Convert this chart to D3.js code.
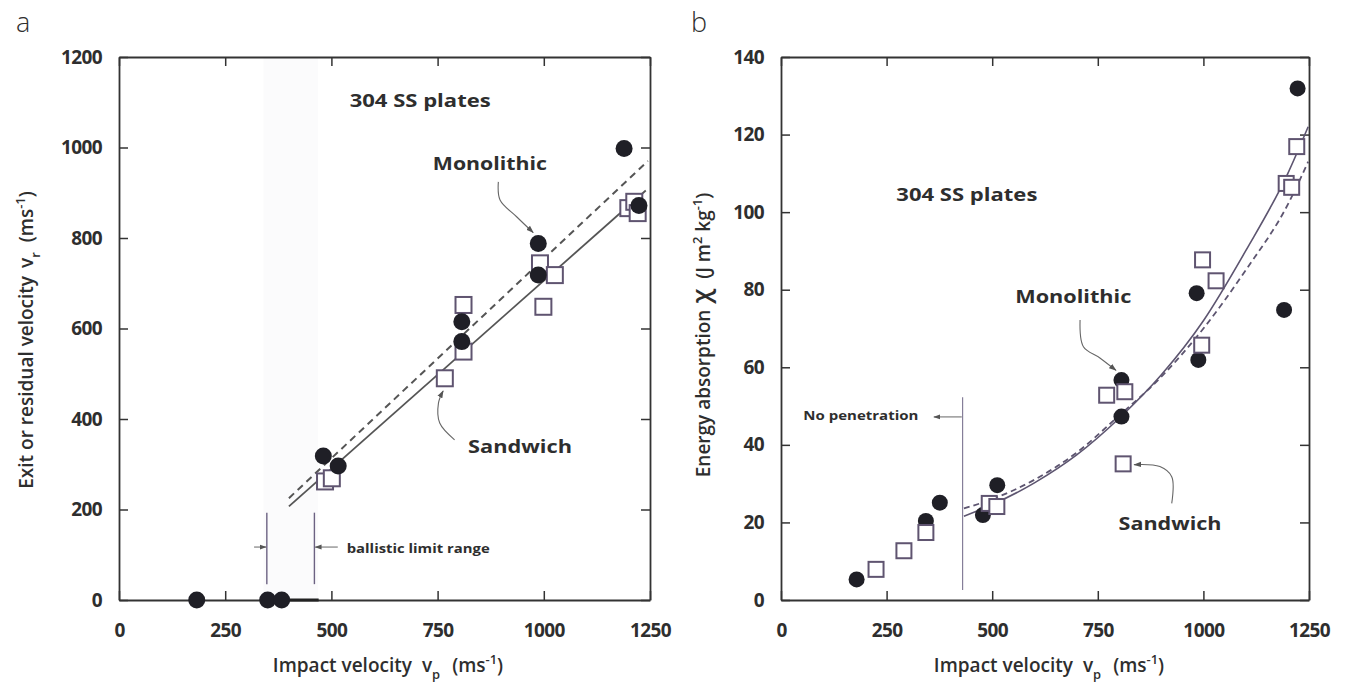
<!DOCTYPE html>
<html><head><meta charset="utf-8">
<script src="https://cdn.jsdelivr.net/npm/d3@7"></script>
<style>
body{margin:0;background:#fff}
svg{display:block}
text{font-family:'Open Sans','Noto Sans',sans-serif;fill:#2e2e2e}
</style>
</head><body>
<svg id="c" width="1345" height="686"></svg>
<script>
// ---------------- data ----------------
const xTickValues = [0, 250, 500, 750, 1000, 1250];
const yTickValuesA = [0, 200, 400, 600, 800, 1000, 1200];
const yTickValuesB = [0, 20, 40, 60, 80, 100, 120, 140];

// Panel a: exit / residual velocity
const monoA_vp = [183, 350, 383, 481, 516, 807, 807, 987, 987, 1189, 1224];
const monoA_vr = [0, 0, 0, 318, 296, 615, 571, 788, 718, 998, 872];
const sandA_vp = [485, 501, 767, 811, 811, 991, 1026, 999, 1199, 1213, 1221];
const sandA_vr = [262, 269, 490, 652, 549, 744, 718, 648, 866, 880, 855];
const fitMonoA_vp = [400, 1245];
const fitMonoA_vr = [225, 970];
const fitSandA_vp = [400, 1240];
const fitSandA_vr = [207, 905];
const ballisticRange = [348, 460];

// Panel b: energy absorption
const monoB_vp = [179, 343, 376, 478, 512, 806, 806, 984, 988, 1191, 1223];
const monoB_E = [5.3, 20.4, 25.1, 21.9, 29.6, 56.7, 47.3, 79.1, 61.9, 74.8, 131.9];
const sandB_vp = [225, 291, 343, 493, 511, 771, 814, 810, 998, 1030, 996, 1196, 1209, 1221];
const sandB_E = [7.9, 12.7, 17.4, 24.9, 24.1, 52.8, 53.7, 35.1, 87.7, 82.3, 65.7, 107.4, 106.4, 116.9];
const curveB_vp = [433, 500, 600, 700, 800, 900, 1000, 1100, 1200, 1248];
const curveSandB_E = [21.6, 24.6, 30.2, 37.4, 46.8, 58, 72, 90, 110, 122];
const curveMonoB_E = [23.6, 26, 31, 38, 47.5, 57.5, 70, 85, 102, 113];
const noPenetration_vp = 430;

// ---------------- drawing ----------------
const svg = d3.select('#c');
const INK = '#333';
const SQ = '#5f5470';

const defs = svg.append('defs');
defs.append('marker').attr('id', 'ah').attr('viewBox', '0 0 10 10')
  .attr('refX', 9).attr('refY', 5).attr('markerWidth', 7).attr('markerHeight', 7)
  .attr('orient', 'auto-start-reverse')
  .append('path').attr('d', 'M0,1.5 L10,5 L0,8.5 Z').attr('fill', '#555');

function rich(sel, parts, fs) {
  let shift = 0;
  parts.forEach(p => {
    const target = p.sub ? fs * 0.38 : p.sup ? -fs * 0.42 : 0;
    const ts = sel.append('tspan').text(p.t).attr('dy', target - shift);
    if (p.dx) ts.attr('dx', p.dx);
    if (p.sub || p.sup) ts.attr('font-size', fs * 0.68);
    if (p.fs) ts.attr('font-size', p.fs);
    shift = target;
  });
  if (shift !== 0) sel.append('tspan').text('').attr('dy', -shift);
}

function frame(g, x, y, yTicks) {
  const [x0, x1] = x.range();
  const [y0, y1] = y.range();
  const tk = 9;
  const fmt = d3.format('d');
  const bottom = g.append('g').attr('transform', `translate(0,${y0})`)
    .call(d3.axisBottom(x).tickValues(xTickValues).tickFormat(fmt).tickSizeInner(-tk).tickSizeOuter(0).tickPadding(24));
  const left = g.append('g').attr('transform', `translate(${x0},0)`)
    .call(d3.axisLeft(y).tickValues(yTicks).tickFormat(fmt).tickSizeInner(-tk).tickSizeOuter(0).tickPadding(17));
  const top = g.append('g').attr('transform', `translate(0,${y1})`)
    .call(d3.axisTop(x).tickValues(xTickValues).tickSizeInner(-tk).tickSizeOuter(0).tickFormat(''));
  const right = g.append('g').attr('transform', `translate(${x1},0)`)
    .call(d3.axisRight(y).tickValues(yTicks).tickSizeInner(-tk).tickSizeOuter(0).tickFormat(''));
  [bottom, left, top, right].forEach(a => {
    a.selectAll('path.domain').attr('stroke', INK).attr('stroke-width', 1.8);
    a.selectAll('.tick line').attr('stroke', INK).attr('stroke-width', 1.5);
    a.selectAll('.tick text').attr('font-size', 19).attr('font-weight', 700)
      .attr('fill', '#2e2e2e').attr('font-family', "'Open Sans',sans-serif")
      .style('letter-spacing', '-0.6px');
  });
}

function squares(g, xs, ys, x, y, s) {
  g.append('g').selectAll('rect').data(xs).join('rect')
    .attr('x', (d, i) => x(d) - s / 2).attr('y', (d, i) => y(ys[i]) - s / 2)
    .attr('width', s).attr('height', s)
    .attr('fill', '#fff').attr('stroke', SQ).attr('stroke-width', 2);
}
function circles(g, xs, ys, x, y, r) {
  g.append('g').selectAll('circle').data(xs).join('circle')
    .attr('cx', d => x(d)).attr('cy', (d, i) => y(ys[i])).attr('r', r)
    .attr('fill', '#1f1f26');
}
function curvedArrow(g, pts, x, y) {
  g.append('path')
    .attr('d', d3.line().x(p => x(p[0])).y(p => y(p[1])).curve(d3.curveCatmullRom)(pts))
    .attr('fill', 'none').attr('stroke', '#666').attr('stroke-width', 1.1)
    .attr('marker-end', 'url(#ah)');
}
function label(g, txt, xv, yv, x, y, w, fs, anchor) {
  g.append('text').attr('x', x(xv)).attr('y', y(yv)).text(txt)
    .attr('font-size', fs).attr('font-weight', 700).attr('text-anchor', anchor || 'middle')
    .attr('textLength', w).attr('lengthAdjust', 'spacingAndGlyphs');
}

// ---------- Panel a ----------
const xA = d3.scaleLinear().domain([0, 1250]).range([119, 650]);
const yA = d3.scaleLinear().domain([0, 1200]).range([600, 57]);
const gA = svg.append('g');

// faint ballistic band
gA.append('rect').attr('x', xA(ballisticRange[0] - 8)).attr('y', yA(1200))
  .attr('width', xA(ballisticRange[1] + 8) - xA(ballisticRange[0] - 8))
  .attr('height', yA(0) - yA(1200)).attr('fill', '#fbfbfc');

frame(gA, xA, yA, yTickValuesA);

// thick segment on axis
gA.append('line').attr('x1', xA(monoA_vp[2])).attr('x2', xA(ballisticRange[1] + 10))
  .attr('y1', yA(0)).attr('y2', yA(0)).attr('stroke', '#222').attr('stroke-width', 3);

// ballistic limit lines + arrows
ballisticRange.forEach(v => {
  gA.append('line').attr('x1', xA(v)).attr('x2', xA(v)).attr('y1', yA(35)).attr('y2', yA(193))
    .attr('stroke', '#6c6282').attr('stroke-width', 1.4);
});
gA.append('line').attr('x1', xA(318)).attr('x2', xA(ballisticRange[0] - 2)).attr('y1', yA(117)).attr('y2', yA(117))
  .attr('stroke', '#666').attr('stroke-width', 1).attr('marker-end', 'url(#ah)');
gA.append('line').attr('x1', xA(515)).attr('x2', xA(ballisticRange[1] + 2)).attr('y1', yA(117)).attr('y2', yA(117))
  .attr('stroke', '#666').attr('stroke-width', 1).attr('marker-end', 'url(#ah)');
gA.append('text').attr('x', xA(536)).attr('y', yA(104)).text('ballistic limit range')
  .attr('font-size', 13).attr('font-weight', 700).attr('textLength', 143).attr('lengthAdjust', 'spacingAndGlyphs')
  .attr('fill', '#333');

// fit lines
gA.append('path').attr('d', d3.line().x(d => xA(d)).y((d, i) => yA(fitMonoA_vr[i]))(fitMonoA_vp))
  .attr('stroke', '#555').attr('stroke-width', 2).attr('fill', 'none').attr('stroke-dasharray', '7,5');
gA.append('path').attr('d', d3.line().x(d => xA(d)).y((d, i) => yA(fitSandA_vr[i]))(fitSandA_vp))
  .attr('stroke', '#555').attr('stroke-width', 1.8).attr('fill', 'none');

squares(gA, sandA_vp, sandA_vr, xA, yA, 16);
circles(gA, monoA_vp, monoA_vr, xA, yA, 8.5);

label(gA, '304 SS plates', 709, 1089, xA, yA, 141, 18);
label(gA, 'Monolithic', 873, 950, xA, yA, 114, 18);
label(gA, 'Sandwich', 944, 325, xA, yA, 104, 18);
curvedArrow(gA, [[893, 924], [897, 884], [936, 847], [975, 812]], xA, yA);
curvedArrow(gA, [[790, 354], [755, 391], [752, 435], [763, 462]], xA, yA);

// ---------- Panel b ----------
const xB = d3.scaleLinear().domain([0, 1250]).range([781, 1309]);
const yB = d3.scaleLinear().domain([0, 140]).range([600, 57]);
const gB = svg.append('g');
frame(gB, xB, yB, yTickValuesB);

gB.append('line').attr('x1', xB(noPenetration_vp)).attr('x2', xB(noPenetration_vp))
  .attr('y1', yB(2.6)).attr('y2', yB(52.3)).attr('stroke', '#7b7390').attr('stroke-width', 1.1);
gB.append('line').attr('x1', xB(noPenetration_vp - 2)).attr('x2', xB(362)).attr('y1', yB(47.2)).attr('y2', yB(47.2))
  .attr('stroke', '#666').attr('stroke-width', 1).attr('marker-end', 'url(#ah)');
gB.append('text').attr('x', xB(53)).attr('y', yB(46.3)).text('No penetration')
  .attr('font-size', 13).attr('font-weight', 700).attr('textLength', 115).attr('lengthAdjust', 'spacingAndGlyphs')
  .attr('fill', '#333');

gB.append('path').attr('d', d3.line().x(d => xB(d)).y((d, i) => yB(curveMonoB_E[i])).curve(d3.curveMonotoneX)(curveB_vp))
  .attr('stroke', '#5d5570').attr('stroke-width', 1.8).attr('fill', 'none').attr('stroke-dasharray', '6,4');
gB.append('path').attr('d', d3.line().x(d => xB(d)).y((d, i) => yB(curveSandB_E[i])).curve(d3.curveMonotoneX)(curveB_vp))
  .attr('stroke', '#5d5570').attr('stroke-width', 1.6).attr('fill', 'none');

circles(gB, monoB_vp, monoB_E, xB, yB, 8);
squares(gB, sandB_vp, sandB_E, xB, yB, 15);

label(gB, '304 SS plates', 440, 103, xB, yB, 141, 18);
label(gB, 'Monolithic', 692, 76.6, xB, yB, 116, 18);
label(gB, 'Sandwich', 921, 18, xB, yB, 103, 18);
curvedArrow(gB, [[708, 72.2], [716, 65.3], [755, 62.4], [793, 59.2]], xB, yB);
curvedArrow(gB, [[925, 24.9], [925, 31.8], [897, 34.4], [836, 34.9]], xB, yB);

// ---------- titles ----------
const tfs = 19;
const tA = svg.append('text').attr('x', 388).attr('y', 672).attr('text-anchor', 'middle')
  .attr('font-size', tfs).attr('font-weight', 600);
rich(tA, [{ t: 'Impact velocity' }, { t: 'v', dx: 10 }, { t: 'p', sub: true }, { t: '(ms', dx: 12 }, { t: '-1', sup: true }, { t: ')' }], tfs);
const tB = svg.append('text').attr('x', 1049).attr('y', 672).attr('text-anchor', 'middle')
  .attr('font-size', tfs).attr('font-weight', 600);
rich(tB, [{ t: 'Impact velocity' }, { t: 'v', dx: 10 }, { t: 'p', sub: true }, { t: '(ms', dx: 12 }, { t: '-1', sup: true }, { t: ')' }], tfs);

const lA = svg.append('text').attr('transform', 'translate(33,340) rotate(-90)').attr('text-anchor', 'middle')
  .attr('font-size', tfs).attr('font-weight', 600);
rich(lA, [{ t: 'Exit or residual velocity' }, { t: 'v', dx: 8 }, { t: 'r', sub: true }, { t: '(ms', dx: 10 }, { t: '-1', sup: true }, { t: ')' }], tfs);

const lB = svg.append('text').attr('transform', 'translate(710,335) rotate(-90)').attr('text-anchor', 'middle')
  .attr('font-size', tfs).attr('font-weight', 600);
rich(lB, [{ t: 'Energy absorption' }, { t: 'χ', dx: 6, fs: 26 }, { t: '(J m', dx: 10 }, { t: '2', sup: true }, { t: ' kg' }, { t: '-1', sup: true }, { t: ')' }], tfs);

svg.append('text').attr('x', 16).attr('y', 32).text('a').attr('font-size', 27).attr('font-weight', 300);
svg.append('text').attr('x', 691).attr('y', 32).text('b').attr('font-size', 27).attr('font-weight', 300);
</script>
</body></html>
